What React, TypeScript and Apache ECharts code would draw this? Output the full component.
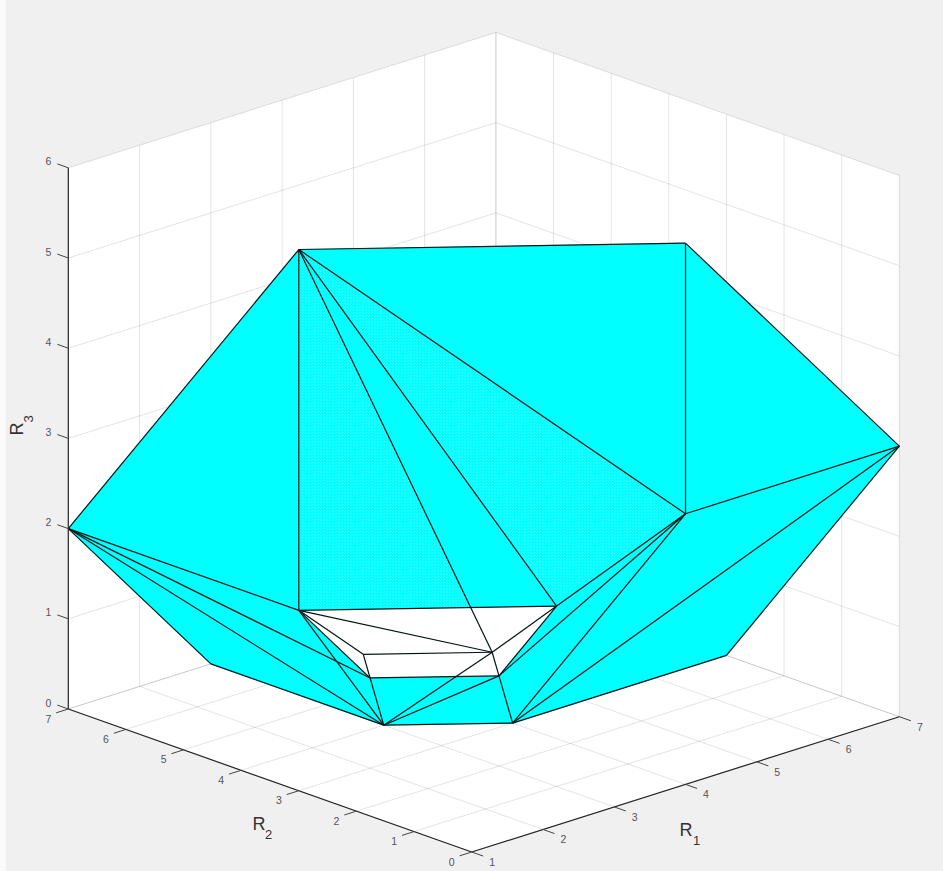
import React, { useEffect, useRef } from "react";
import * as echarts from "echarts";

// Polytope vertices, in (R1, R2, R3) data units
const vertexNames = ["A", "B", "C", "D", "E", "F", "G", "H", "I", "J", "K", "L", "M", "N", "O"];
const r1Values = [1, 4, 1, 7, 4, 1, 3, 2.5, 1.5, 2, 3, 3, 4, 3, 7];
const r2Values = [3, 0, 7, 0, 0, 3, 1, 1.5, 2.5, 3, 2, 4, 3, 7, 3];
const r3Values = [6, 6, 2, 3, 3, 2, 2, 1.5, 1.5, 1, 1, 0, 0, 0, 0];

const cyanFaces = ["CAF", "AHG", "ABE", "BED", "EDM", "DOM", "EKM", "EGK", "CFJ", "CJL", "CLN", "FJL", "JKL", "KLM"];
const stippledFaces = ["AFH", "AGE"];
const openFaces = ["FGH", "GHK", "FHI", "FIJ", "IHKJ"];
const edges = [
  "AB", "AC", "AF", "AH", "AG", "AE", "BE", "BD", "DE", "DO", "DM", "OM", "EG", "EK", "EM",
  "FG", "FH", "FI", "FJ", "FL", "FC", "GH", "GK", "HI", "HK", "HL", "IJ", "JK", "JL", "JC",
  "KL", "KM", "LM", "LC", "LN", "NC",
];

// Axis ticks
const r1Ticks = [1, 2, 3, 4, 5, 6, 7];
const r2Ticks = [0, 1, 2, 3, 4, 5, 6, 7];
const r3Ticks = [0, 1, 2, 3, 4, 5, 6];
const R1_MIN = 1, R1_MAX = 7, R2_MIN = 0, R2_MAX = 7, R3_MIN = 0, R3_MAX = 6;

// Fixed view of the box: plane units contributed by one data unit of each axis
const R1_U = 71.27, R1_V = 22.55, R2_U = -57.63, R2_V = 20.43, R3_V = 90.2;

type P3 = [number, number, number];

const project = (p: P3): [number, number] => [
  (p[0] - R1_MIN) * R1_U + p[1] * R2_U,
  (p[0] - R1_MIN) * R1_V + p[1] * R2_V + p[2] * R3_V,
];
const vertex = (name: string): P3 => {
  const i = vertexNames.indexOf(name);
  return [r1Values[i], r2Values[i], r3Values[i]];
};
const facePoints = (f: string): P3[] => f.split("").map(vertex);

const U_MIN = project([R1_MIN, R2_MAX, 0])[0];
const U_MAX = project([R1_MAX, R2_MIN, 0])[0];
const V_MAX = project([R1_MAX, R2_MAX, R3_MAX])[1];

function stipple(): any {
  const c = document.createElement("canvas");
  c.width = 3;
  c.height = 3;
  const g = c.getContext("2d")!;
  g.fillStyle = "#00ffff";
  g.fillRect(0, 0, 3, 3);
  g.fillStyle = "#34ffff";
  g.fillRect(0, 0, 1, 1);
  g.fillRect(2, 1, 1, 1);
  return { image: c, repeat: "repeat" };
}

function polygons(name: string, polys: P3[][], style: any) {
  return {
    type: "custom",
    name,
    silent: true,
    clip: false,
    coordinateSystem: "cartesian2d",
    data: polys.map((p) => project(p[0])),
    renderItem: (params: any, api: any) => ({
      type: "polygon",
      shape: { points: polys[params.dataIndex].map((p) => api.coord(project(p))) },
      style,
    }),
  };
}

function segments(name: string, segs: P3[][], stroke: string, lineWidth = 1) {
  return {
    type: "custom",
    name,
    silent: true,
    clip: false,
    coordinateSystem: "cartesian2d",
    data: segs.map((p) => project(p[0])),
    renderItem: (params: any, api: any) => {
      const a = api.coord(project(segs[params.dataIndex][0]));
      const b = api.coord(project(segs[params.dataIndex][1]));
      return {
        type: "line",
        shape: { x1: a[0], y1: a[1], x2: b[0], y2: b[1] },
        style: { stroke, lineWidth, fill: "none" },
      };
    },
  };
}

function labels(name: string, pts: P3[], texts: number[], dx: number, dy: number) {
  return {
    type: "custom",
    name,
    silent: true,
    clip: false,
    coordinateSystem: "cartesian2d",
    data: pts.map((p) => project(p)),
    renderItem: (params: any, api: any) => {
      const a = api.coord(project(pts[params.dataIndex]));
      return {
        type: "text",
        style: {
          text: String(texts[params.dataIndex]),
          x: a[0] + dx,
          y: a[1] + dy,
          fill: "#555555",
          font: '10.5px "Liberation Sans"',
          textAlign: "center",
          textVerticalAlign: "middle",
        },
      };
    },
  };
}

function title(text: string, x: number, y: number, size: number, rotation = 0) {
  return {
    type: "text",
    x,
    y,
    rotation,
    silent: true,
    z: 50,
    style: {
      text,
      fill: "#333333",
      font: `${size}px "Liberation Sans"`,
      textAlign: "center",
      textVerticalAlign: "middle",
    },
  };
}

export default function App() {
  const ref = useRef<HTMLDivElement>(null);
  useEffect(() => {
    document.body.style.margin = "0";
    const chart = echarts.init(ref.current!, undefined, { renderer: "svg" });

    const gridSegs: P3[][] = [];
    r1Ticks.forEach((r) => {
      gridSegs.push([[r, R2_MIN, 0], [r, R2_MAX, 0]]);
      gridSegs.push([[r, R2_MAX, 0], [r, R2_MAX, R3_MAX]]);
    });
    r2Ticks.forEach((r) => {
      gridSegs.push([[R1_MIN, r, 0], [R1_MAX, r, 0]]);
      gridSegs.push([[R1_MAX, r, 0], [R1_MAX, r, R3_MAX]]);
    });
    r3Ticks.forEach((r) => {
      gridSegs.push([[R1_MIN, R2_MAX, r], [R1_MAX, R2_MAX, r]]);
      gridSegs.push([[R1_MAX, R2_MAX, r], [R1_MAX, R2_MIN, r]]);
    });

    const walls: P3[][] = [
      [[R1_MIN, R2_MIN, 0], [R1_MAX, R2_MIN, 0], [R1_MAX, R2_MAX, 0], [R1_MIN, R2_MAX, 0]],
      [[R1_MIN, R2_MAX, 0], [R1_MAX, R2_MAX, 0], [R1_MAX, R2_MAX, R3_MAX], [R1_MIN, R2_MAX, R3_MAX]],
      [[R1_MAX, R2_MIN, 0], [R1_MAX, R2_MAX, 0], [R1_MAX, R2_MAX, R3_MAX], [R1_MAX, R2_MIN, R3_MAX]],
    ];

    const axisSegs: P3[][] = [
      [[R1_MIN, R2_MIN, 0], [R1_MAX, R2_MIN, 0]],
      [[R1_MIN, R2_MIN, 0], [R1_MIN, R2_MAX, 0]],
      [[R1_MIN, R2_MAX, 0], [R1_MIN, R2_MAX, R3_MAX]],
    ];
    const tickSegs: P3[][] = [
      ...r1Ticks.map((r): P3[] => [[r, R2_MIN, 0], [r, R2_MIN - 0.2, 0]]),
      ...r2Ticks.map((r): P3[] => [[R1_MIN, r, 0], [R1_MIN - 0.17, r, 0]]),
      ...r3Ticks.map((r): P3[] => [[R1_MIN, R2_MAX, r], [R1_MIN, R2_MAX + 0.19, r]]),
    ];

    chart.setOption({
      animation: false,
      backgroundColor: "#fbfbfb",
      grid: { left: 68.3, top: 32.5, width: U_MAX - U_MIN, height: V_MAX, containLabel: false },
      xAxis: { type: "value", min: U_MIN, max: U_MAX, show: false },
      yAxis: { type: "value", min: 0, max: V_MAX, show: false },
      tooltip: { show: false },
      graphic: [
        { type: "rect", silent: true, z: 0, shape: { x: 6, y: 0, width: 937, height: 871 }, style: { fill: "#f0f0f0" } },
        title("R", 686, 830, 18),
        title("1", 696.5, 840, 13),
        title("R", 259, 824, 18),
        title("2", 268.7, 834, 13),
        title("R", 17, 429, 18, Math.PI / 2),
        title("3", 28, 419, 13, Math.PI / 2),
      ],
      series: [
        polygons("walls", walls, { fill: "#ffffff" }),
        segments("grid", gridSegs, "rgba(0,0,0,0.11)"),
        polygons("faces", cyanFaces.map(facePoints), { fill: "#00ffff", stroke: "#00ffff", lineWidth: 0.5 }),
        polygons("stippled faces", stippledFaces.map(facePoints), { fill: stipple() }),
        polygons("open faces", openFaces.map(facePoints), { fill: "#ffffff" }),
        segments("edges", edges.map(facePoints), "#051414", 1.2),
        segments("axes", axisSegs, "#262626", 1.2),
        segments("ticks", tickSegs, "#444444", 1),
        labels("r1 ticks", r1Ticks.map((r): P3 => [r, R2_MIN, 0]), r1Ticks, 20.5, 9.8),
        labels("r2 ticks", r2Ticks.map((r): P3 => [R1_MIN, r, 0]), r2Ticks, -20, 9.5),
        labels("r3 ticks", r3Ticks.map((r): P3 => [R1_MIN, R2_MAX, r]), r3Ticks, -20, -6.5),
      ],
    });
    return () => chart.dispose();
  }, []);
  return <div ref={ref} style={{ width: 943, height: 871 }} />;
}
